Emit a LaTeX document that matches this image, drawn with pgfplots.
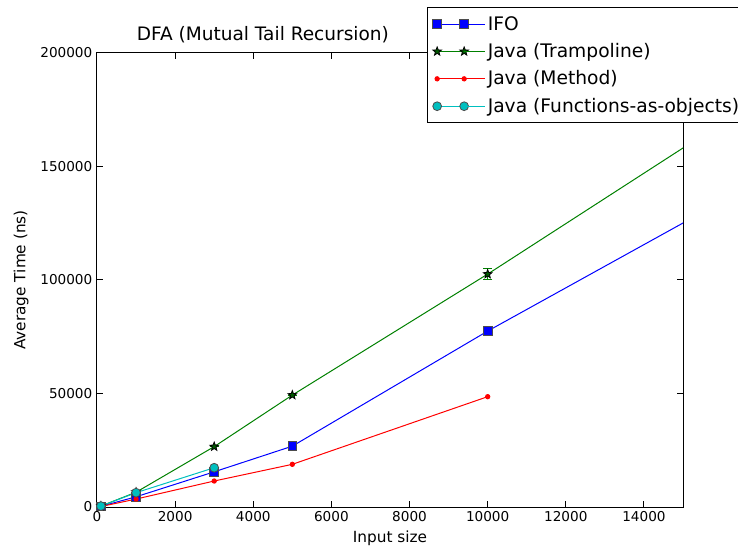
\documentclass[border=0pt]{standalone}
\usepackage{pgfplots}
\pgfplotsset{compat=1.18}
\usetikzlibrary{calc}
\usepackage{fontspec}
\setmainfont{DejaVu Sans}

\definecolor{mplblue}{rgb}{0,0,1}
\definecolor{mplgreen}{rgb}{0,0.5,0}
\definecolor{mplred}{rgb}{1,0,0}
\definecolor{mplcyan}{rgb}{0,0.75,0.75}

% filled five-pointed star, like matplotlib's '*'
\pgfdeclareplotmark{fstar}{%
  \pgfpathmoveto{\pgfpointpolar{90}{\pgfplotmarksize}}%
  \pgfpathlineto{\pgfpointpolar{126}{0.42\pgfplotmarksize}}%
  \pgfpathlineto{\pgfpointpolar{162}{\pgfplotmarksize}}%
  \pgfpathlineto{\pgfpointpolar{198}{0.42\pgfplotmarksize}}%
  \pgfpathlineto{\pgfpointpolar{234}{\pgfplotmarksize}}%
  \pgfpathlineto{\pgfpointpolar{270}{0.42\pgfplotmarksize}}%
  \pgfpathlineto{\pgfpointpolar{306}{\pgfplotmarksize}}%
  \pgfpathlineto{\pgfpointpolar{342}{0.42\pgfplotmarksize}}%
  \pgfpathlineto{\pgfpointpolar{18}{\pgfplotmarksize}}%
  \pgfpathlineto{\pgfpointpolar{54}{0.42\pgfplotmarksize}}%
  \pgfpathclose
  \pgfusepathqfillstroke
}

\begin{document}
\begin{tikzpicture}
\begin{axis}[
    name=ax,
    scale only axis,
    width=439.5pt, height=340.5pt,
    xmin=0, xmax=15000,
    ymin=0, ymax=200000,
    xtick={0,2000,...,14000},
    ytick={0,50000,100000,150000,200000},
    scaled ticks=false,
    /pgf/number format/.cd, fixed, 1000 sep={}, assume math mode=true,
    /pgfplots/.cd,
    tick align=inside,
    major tick length=4.5pt,
    tick style={black, line width=0.75pt},
    axis line style={black, line width=0.75pt},
    tick label style={font=\fontsize{10.2pt}{12pt}\selectfont},
    label style={font=\fontsize{11.5pt}{13pt}\selectfont},
    xlabel={Input size},
    ylabel={Average Time (ns)},
    ylabel style={xshift=0pt, yshift=2pt},
    title={DFA (Mutual Tail Recursion)},
    title style={at={(0.283,1)}, font=\fontsize{13.9pt}{15pt}\selectfont, yshift=-2pt},
    legend style={
        at={(0.563,1.101)}, anchor=north west,
        draw=black, line width=0.75pt, fill=white,
        font=\fontsize{14pt}{16pt}\selectfont,
        legend cell align=left,
        row sep=4.4pt, inner xsep=4pt, inner ysep=4.5pt,
    },
    legend image code/.code={
        \draw[mark repeat=2, mark phase=1, #1]
            plot coordinates {(0pt,0pt) (10.1pt,0pt) (20.25pt,0pt)};
        \path (20.25pt,0pt) -- (35.6pt,0pt);
    },
]

% IFO
\addplot[mplblue, line width=0.75pt, mark=square*, mark size=3.3pt,
    mark options={fill=mplblue, draw=black!70, line width=0.6pt}]
    coordinates {(100,300) (1000,4500) (3000,15500) (5000,26800) (10000,77500)};
\addlegendentry{IFO}

% Java (Trampoline)
\addplot[mplgreen, line width=0.75pt, mark=fstar, mark size=3.4pt,
    mark options={fill=mplgreen!70!black, draw=black, line width=0.6pt},
    error bars/.cd, y dir=both, y explicit,
    error bar style={mplgreen, line width=0.75pt},
    error mark options={rotate=90, mark size=3.5pt, mplgreen, line width=0.75pt}]
    coordinates {(100,400) +- (0,0) (1000,6500) +- (0,0) (3000,26600) +- (0,0)
                 (5000,49300) +- (0,0) (10000,102600) +- (0,2400)};
\addlegendentry{Java (Trampoline)}

% Java (Method)
\addplot[mplred, line width=0.75pt, mark=*, mark size=1.6pt,
    mark options={fill=mplred, draw=mplred}]
    coordinates {(100,200) (1000,3500) (3000,11450) (5000,18800) (10000,48600)};
\addlegendentry{Java (Method)}

% Java (Functions-as-objects)
\addplot[mplcyan, line width=0.75pt, mark=*, mark size=3.3pt,
    mark options={fill=mplcyan, draw=black!70, line width=0.6pt}]
    coordinates {(100,400) (1000,6300) (3000,17300)};
\addlegendentry{Java (Functions-as-objects)}

% continuation of the two long series past the right edge (clipped)
\addplot[mplblue, line width=0.75pt, forget plot]
    coordinates {(10000,77500) (20000,172700)};
\addplot[mplgreen, line width=0.75pt, forget plot]
    coordinates {(10000,102600) (20000,213700)};

\end{axis}
\pgfresetboundingbox
\path[use as bounding box]
    ($(ax.south west)+(-72.75pt,-34.5pt)$) rectangle ($(ax.north east)+(41.25pt,39.75pt)$);
\end{tikzpicture}
\end{document}
